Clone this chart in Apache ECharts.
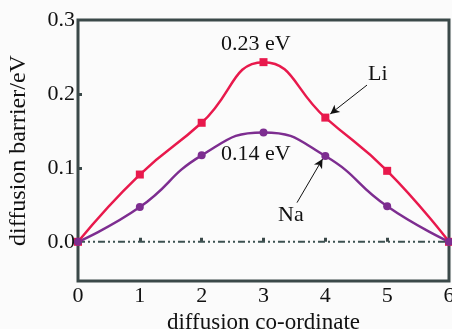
<!DOCTYPE html>
<html><head><meta charset="utf-8">
<script src="https://cdn.jsdelivr.net/npm/echarts@6/dist/echarts.min.js"></script>
<style>html,body{margin:0;padding:0;background:#fbfbfb}#c{width:452px;height:329px}</style>
</head><body><div id="c"></div>
<script>
const categories = [0, 1, 2, 3, 4, 5, 6];
const liValues = [0, 0.091, 0.161, 0.243, 0.168, 0.096, 0];
const naValues = [0, 0.047, 0.117, 0.148, 0.116, 0.048, 0];
const baseline = [0, 0, 0, 0, 0, 0, 0];
const yTicks = [0, 0.1, 0.2, 0.3];
const xTicks = [0, 1, 2, 3, 4, 5, 6];

const font = 'Liberation Serif';
const chart = echarts.init(document.getElementById('c'));
const pair = v => categories.map((c, i) => [c, v[i]]);
chart.setOption({
  backgroundColor: '#fbfbfb',
  animation: false,
  grid: {left: 78, right: 3, top: 20, bottom: 48, outerBoundsMode: 'none', containLabel: false,
    show: true, borderColor: '#3b4949', borderWidth: 3, backgroundColor: 'transparent'},
  xAxis: {
    type: 'value', min: 0, max: 6, interval: 1,
    name: 'diffusion co-ordinate', nameLocation: 'middle', nameGap: 21,
    nameTextStyle: {fontFamily: font, fontSize: 23, color: '#111'},
    axisLine: {show: false},
    axisTick: {show: true, inside: true, length: 4, lineStyle: {color: '#3b4949', width: 3}, customValues: [1, 2, 3, 4, 5]},
    axisLabel: {fontFamily: font, fontSize: 22, color: '#111', margin: 4, customValues: xTicks},
    splitLine: {show: false}
  },
  yAxis: {
    type: 'value', min: -0.053, max: 0.3,
    name: 'diffusion barrier/eV', nameLocation: 'middle', nameGap: 47,
    nameTextStyle: {fontFamily: font, fontSize: 24, color: '#111'},
    axisLine: {show: false},
    axisTick: {show: true, inside: true, length: 4, lineStyle: {color: '#3b4949', width: 3}, customValues: [0.1, 0.2]},
    axisLabel: {fontFamily: font, fontSize: 22, color: '#111', margin: 3, customValues: yTicks, formatter: v => v.toFixed(1)},
    splitLine: {show: false}
  },
  series: [
    {type: 'line', data: pair(baseline), symbol: 'none', z: 1,
     lineStyle: {color: '#3d5252', width: 2, type: [7, 3, 2, 3, 2, 3]}},
    {type: 'line', name: 'Li', data: pair(liValues), smooth: 0.5, symbol: 'rect', symbolSize: 8,
     itemStyle: {color: '#e8194c'}, lineStyle: {color: '#e8194c', width: 2.5},
     markLine: {silent: true, symbol: ['none', 'arrow'], symbolSize: [7, 9], label: {show: false},
       lineStyle: {color: '#111', width: 1, type: 'solid'},
       data: [[{coord: [4.674, 0.212]}, {coord: [4.08, 0.173]}]]}},
    {type: 'line', name: 'Na', data: pair(naValues), smooth: 0.5, symbol: 'circle', symbolSize: 8,
     itemStyle: {color: '#7d2d90'}, lineStyle: {color: '#7d2d90', width: 2.5},
     markLine: {silent: true, symbol: ['none', 'arrow'], symbolSize: [7, 9], label: {show: false},
       lineStyle: {color: '#111', width: 1, type: 'solid'},
       data: [[{coord: [3.542, 0.053]}, {coord: [3.955, 0.112]}]]}}
  ],
  graphic: [
    {type: 'text', left: 221, top: 33, style: {text: '0.23 eV', font: '22px "Liberation Serif"', fill: '#111'}},
    {type: 'text', left: 221, top: 143, style: {text: '0.14 eV', font: '22px "Liberation Serif"', fill: '#111'}},
    {type: 'text', left: 368, top: 63, style: {text: 'Li', font: '22px "Liberation Serif"', fill: '#111'}},
    {type: 'text', left: 278, top: 204, style: {text: 'Na', font: '22px "Liberation Serif"', fill: '#111'}}
  ]
});
</script></body></html>
